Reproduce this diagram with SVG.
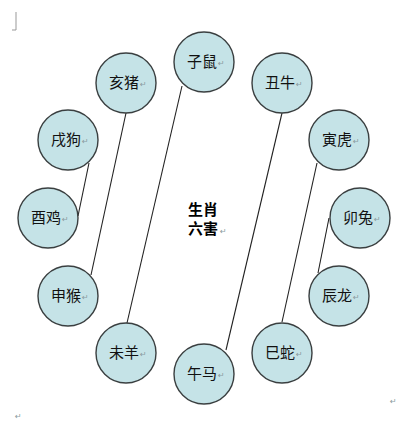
<svg xmlns="http://www.w3.org/2000/svg" width="412" height="432" viewBox="0 0 412 432">
<style>
.n circle{fill:#c5e3e7;stroke:#3a3f40;stroke-width:1.4}
.n text{font-family:"Noto Sans CJK SC","Noto Sans",sans-serif;font-size:15px;fill:#111;text-anchor:middle}
text.pm,.n text.pm{font-family:"DejaVu Sans",sans-serif;font-size:8px;fill:#8a9aa0;text-anchor:start}
.c line{stroke:#222;stroke-width:1.1}
.t{font-family:"Noto Sans CJK SC",sans-serif;font-size:15px;font-weight:bold;fill:#000}
</style>
<rect width="412" height="432" fill="#fff"/>
<path d="M16 12 V30 H12" fill="none" stroke="#999" stroke-width="1"/>
<g class="c" id="connectors">
<line x1="182" y1="86" x2="127" y2="323"/>
<line x1="126" y1="113" x2="91" y2="275"/>
<line x1="89" y1="163" x2="78" y2="216"/>
<line x1="282" y1="113" x2="226" y2="350"/>
<line x1="317" y1="163" x2="282" y2="322"/>
<line x1="329" y1="218" x2="318" y2="273"/>
</g>
<g class="n" id="zi"><circle cx="204" cy="62" r="30"/><text x="202" y="67">子鼠</text><text class="pm" x="218" y="66">↵</text></g>
<g class="n" id="chou"><circle cx="282" cy="83" r="30"/><text x="280" y="88">丑牛</text><text class="pm" x="296" y="87">↵</text></g>
<g class="n" id="yin"><circle cx="339" cy="140" r="30"/><text x="337" y="145">寅虎</text><text class="pm" x="353" y="144">↵</text></g>
<g class="n" id="mao"><circle cx="360" cy="218" r="30"/><text x="358" y="223">卯兔</text><text class="pm" x="374" y="222">↵</text></g>
<g class="n" id="chen"><circle cx="339" cy="296" r="30"/><text x="337" y="301">辰龙</text><text class="pm" x="353" y="300">↵</text></g>
<g class="n" id="si"><circle cx="282" cy="353" r="30"/><text x="280" y="358">巳蛇</text><text class="pm" x="296" y="357">↵</text></g>
<g class="n" id="wu"><circle cx="204" cy="374" r="30"/><text x="202" y="379">午马</text><text class="pm" x="218" y="378">↵</text></g>
<g class="n" id="wei"><circle cx="126" cy="353" r="30"/><text x="124" y="358">未羊</text><text class="pm" x="140" y="357">↵</text></g>
<g class="n" id="shen"><circle cx="68" cy="296" r="30"/><text x="66" y="301">申猴</text><text class="pm" x="82" y="300">↵</text></g>
<g class="n" id="you"><circle cx="48" cy="218" r="30"/><text x="46" y="223">酉鸡</text><text class="pm" x="62" y="222">↵</text></g>
<g class="n" id="xu"><circle cx="68" cy="140" r="30"/><text x="66" y="145">戌狗</text><text class="pm" x="82" y="144">↵</text></g>
<g class="n" id="hai"><circle cx="126" cy="83" r="30"/><text x="124" y="88">亥猪</text><text class="pm" x="140" y="87">↵</text></g>
<g id="title">
<text class="t" x="188" y="215">生肖</text>
<text class="t" x="188" y="234">六害</text>
<text class="pm" x="220" y="234">↵</text>
</g>
<text class="pm" x="15" y="419">↵</text>
<text class="pm" x="390" y="404">↵</text>
</svg>
